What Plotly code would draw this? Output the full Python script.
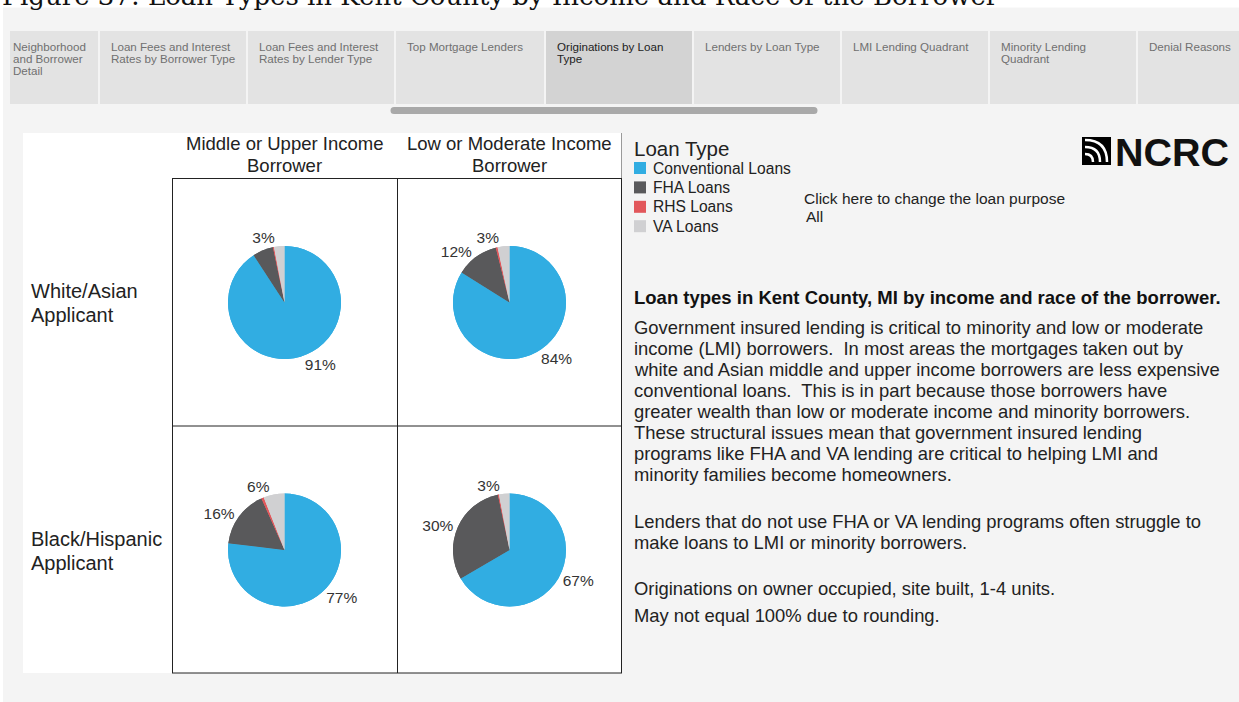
import plotly.graph_objects as go

W, H = 1239, 702

def X(px):
    return px / W

def Y(py):
    return 1 - py / H

# ---------------- data ----------------
loan_types = ["Conventional Loans", "FHA Loans", "RHS Loans", "VA Loans"]
loan_colors = ["#31ade2", "#59595b", "#e2575b", "#d0d0d2"]

col_headers = ["Middle or Upper Income<br>Borrower", "Low or Moderate Income<br>Borrower"]
row_headers = ["White/Asian<br>Applicant", "Black/Hispanic<br>Applicant"]

# shares (%) in order: Conventional, FHA, RHS, VA
white_asian_mui = [91.0, 5.9, 0.3, 3.0]
white_asian_lmi = [83.9, 12.2, 0.5, 3.4]
black_hisp_mui = [76.9, 16.4, 0.7, 6.0]
black_hisp_lmi = [66.6, 30.1, 0.3, 3.0]

white_asian_mui_labels = ["91%", "", "", "3%"]
white_asian_lmi_labels = ["84%", "12%", "", "3%"]
black_hisp_mui_labels = ["77%", "16%", "", "6%"]
black_hisp_lmi_labels = ["67%", "30%", "", "3%"]

tabs = ["Neighborhood<br>and Borrower<br>Detail",
        "Loan Fees and Interest<br>Rates by Borrower Type",
        "Loan Fees and Interest<br>Rates by Lender Type",
        "Top Mortgage Lenders",
        "Originations by Loan<br>Type",
        "Lenders by Loan Type",
        "LMI Lending Quadrant",
        "Minority Lending<br>Quadrant",
        "Denial Reasons"]
selected_tab = 4

title_text = "Figure 37: Loan Types in Kent County by Income and Race of the Borrower"
side_title = "Loan types in Kent County, MI by income and race of the borrower."
side_paragraphs = [
    ["Government insured lending is critical to minority and low or moderate",
     "income (LMI) borrowers.  In most areas the mortgages taken out by",
     "white and Asian middle and upper income borrowers are less expensive",
     "conventional loans.  This is in part because those borrowers have",
     "greater wealth than low or moderate income and minority borrowers.",
     "These structural issues mean that government insured lending",
     "programs like FHA and VA lending are critical to helping LMI and",
     "minority families become homeowners."],
    ["Lenders that do not use FHA or VA lending programs often struggle to",
     "make loans to LMI or minority borrowers."],
    ["Originations on owner occupied, site built, 1-4 units."],
    ["May not equal 100% due to rounding."],
]

FONT = "Liberation Sans, Arial, sans-serif"

fig = go.Figure()

# ---------------- pies ----------------
pie_sets = [
    (white_asian_mui, white_asian_mui_labels, 284.5, 302.5),
    (white_asian_lmi, white_asian_lmi_labels, 509.5, 302.5),
    (black_hisp_mui, black_hisp_mui_labels, 284.5, 550),
    (black_hisp_lmi, black_hisp_lmi_labels, 509.5, 550),
]
R = 56.5
for vals, labs, cx, cy in pie_sets:
    # two identical pies; labels split so that the small top label is not scooted
    for keep in ((0, 1), (2, 3)):
        txt = [l if i in keep else "" for i, l in enumerate(labs)]
        fig.add_trace(go.Pie(
            labels=loan_types, values=vals, sort=False, direction="clockwise",
            rotation=0, text=txt, texttemplate="%{text}", textposition="outside",
            textfont=dict(family=FONT, size=15.5, color="#333333"),
            marker=dict(colors=loan_colors, line=dict(width=0)),
            domain=dict(x=[X(cx - R), X(cx + R)], y=[Y(cy + R), Y(cy - R)]),
            showlegend=False, hoverinfo="label+percent",
        ))

shapes = []
ann = []

# title band
shapes.append(dict(type="rect", xref="paper", yref="paper", x0=0, x1=1, y0=Y(7.5), y1=1,
                   fillcolor="white", line=dict(width=0), layer="below"))
shapes.append(dict(type="rect", xref="paper", yref="paper", x0=0, x1=X(3), y0=0, y1=1,
                   fillcolor="white", line=dict(width=0), layer="below"))
ann.append(dict(text=title_text, x=X(0), y=Y(-4), xref="paper", yref="paper",
                xanchor="left", yanchor="middle", showarrow=False,
                font=dict(family="DejaVu Serif, serif", size=26, color="#111")))

# tabs
tab_edges = [(10, 98), (100, 246), (248, 394), (396, 544), (546, 692),
             (694, 840), (842, 988), (990, 1136), (1138, 1239)]
for i, (t, (l, r)) in enumerate(zip(tabs, tab_edges)):
    sel = i == selected_tab
    shapes.append(dict(type="rect", xref="paper", yref="paper", x0=X(l), x1=X(r),
                       y0=Y(104), y1=Y(31), fillcolor="#d3d3d3" if sel else "#e3e3e3",
                       line=dict(width=0), layer="below"))
    for j, line in enumerate(t.split("<br>")):
        ann.append(dict(text=line, x=X(l + 1 if i == 0 else l + 9), y=Y(46.5 + 12 * j),
                        xref="paper", yref="paper",
                        xanchor="left", yanchor="middle", showarrow=False,
                        font=dict(family=FONT, size=11.6, color="#222" if sel else "#707070")))

# scrollbar
shapes.append(dict(type="rect", xref="paper", yref="paper", x0=X(394), x1=X(814),
                   y0=Y(114), y1=Y(107), fillcolor="#a9a9a9", line=dict(width=0), layer="below"))
for cx in (394, 814):
    shapes.append(dict(type="circle", xref="paper", yref="paper", x0=X(cx - 3.5), x1=X(cx + 3.5),
                       y0=Y(114), y1=Y(107), fillcolor="#a9a9a9", line=dict(width=0), layer="below"))

# white panel
shapes.append(dict(type="rect", xref="paper", yref="paper", x0=X(23), x1=X(621),
                   y0=Y(673), y1=Y(133), fillcolor="white", line=dict(width=0), layer="below"))
shapes.append(dict(type="line", xref="paper", yref="paper", x0=X(621.5), x1=X(621.5),
                   y0=Y(673), y1=Y(133), line=dict(color="#9a9a9a", width=1), layer="below"))
# grid
for (x0, y0, x1, y1) in [(172, 178.5, 622, 178.5), (172, 426, 622, 426), (172, 673, 622, 673),
                         (172.5, 178, 172.5, 673), (397.5, 178, 397.5, 673), (621.5, 178, 621.5, 673)]:
    shapes.append(dict(type="line", xref="paper", yref="paper", x0=X(x0), x1=X(x1),
                       y0=Y(y0), y1=Y(y1), line=dict(color="#222", width=1), layer="below"))

for k, h in enumerate(col_headers):
    cx = [284.5, 509.5][k]
    for j, line in enumerate(h.split("<br>")):
        ann.append(dict(text=line, x=X(cx), y=Y(144 + 22 * j), xref="paper", yref="paper",
                        xanchor="center", yanchor="middle", showarrow=False,
                        font=dict(family=FONT, size=18.5, color="#222")))
for k, h in enumerate(row_headers):
    cy = [291, 539][k]
    for j, line in enumerate(h.split("<br>")):
        ann.append(dict(text=line, x=X(29), y=Y(cy + 24 * j), xref="paper", yref="paper",
                        xanchor="left", yanchor="middle", showarrow=False,
                        font=dict(family=FONT, size=20, color="#222")))

# legend
ann.append(dict(text="Loan Type", x=X(632), y=Y(148), xref="paper", yref="paper",
                xanchor="left", yanchor="middle", showarrow=False,
                font=dict(family=FONT, size=20.5, color="#222")))
for i, (name, col) in enumerate(zip(loan_types, loan_colors)):
    cy = 168 + 19.4 * i
    shapes.append(dict(type="rect", xref="paper", yref="paper", x0=X(634), x1=X(646),
                       y0=Y(cy + 6), y1=Y(cy - 6), fillcolor=col, line=dict(width=0)))
    ann.append(dict(text=name, x=X(651), y=Y(cy), xref="paper", yref="paper",
                    xanchor="left", yanchor="middle", showarrow=False,
                    font=dict(family=FONT, size=15.6, color="#222")))

ann.append(dict(text="Click here to change the loan purpose", x=X(802), y=Y(198),
                xref="paper", yref="paper", xanchor="left", yanchor="middle", showarrow=False,
                font=dict(family=FONT, size=15.5, color="#222")))
ann.append(dict(text="All", x=X(804), y=Y(217), xref="paper", yref="paper",
                xanchor="left", yanchor="middle", showarrow=False,
                font=dict(family=FONT, size=15.5, color="#222")))

# NCRC logo
shapes.append(dict(type="rect", xref="paper", yref="paper", x0=X(1082), x1=X(1111),
                   y0=Y(165), y1=Y(137), fillcolor="black", line=dict(width=0)))
for rr in (8, 15, 22):
    bx, by = 1085, 162
    path = "M {},{} Q {},{} {},{}".format(X(bx), Y(by - rr), X(bx + rr), Y(by - rr), X(bx + rr), Y(by))
    shapes.append(dict(type="path", xref="paper", yref="paper", path=path,
                       line=dict(color="white", width=2.5)))
ann.append(dict(text="<b>NCRC</b>", x=X(1113), y=Y(151.5), xref="paper", yref="paper",
                xanchor="left", yanchor="middle", showarrow=False,
                font=dict(family=FONT, size=39.5, color="#111")))

# side text
ann.append(dict(text="<b>" + side_title + "</b>", x=X(632), y=Y(297), xref="paper", yref="paper",
                xanchor="left", yanchor="middle", showarrow=False,
                font=dict(family=FONT, size=18.5, color="#111")))
para_starts = [327, 521, 588, 615]
for start, para in zip(para_starts, side_paragraphs):
    for j, line in enumerate(para):
        ann.append(dict(text=line, x=X(632), y=Y(start + 21 * j), xref="paper", yref="paper",
                        xanchor="left", yanchor="middle", showarrow=False,
                        font=dict(family=FONT, size=18.4, color="#222")))

fig.update_layout(
    width=W, height=H, margin=dict(l=0, r=0, t=0, b=0),
    paper_bgcolor="#f4f4f4", plot_bgcolor="#f4f4f4",
    shapes=shapes, annotations=ann, showlegend=False,
    font=dict(family=FONT),
)
fig.write_html("out.html", config={"displayModeBar": False},
               post_script="document.body.style.margin='0px';")
